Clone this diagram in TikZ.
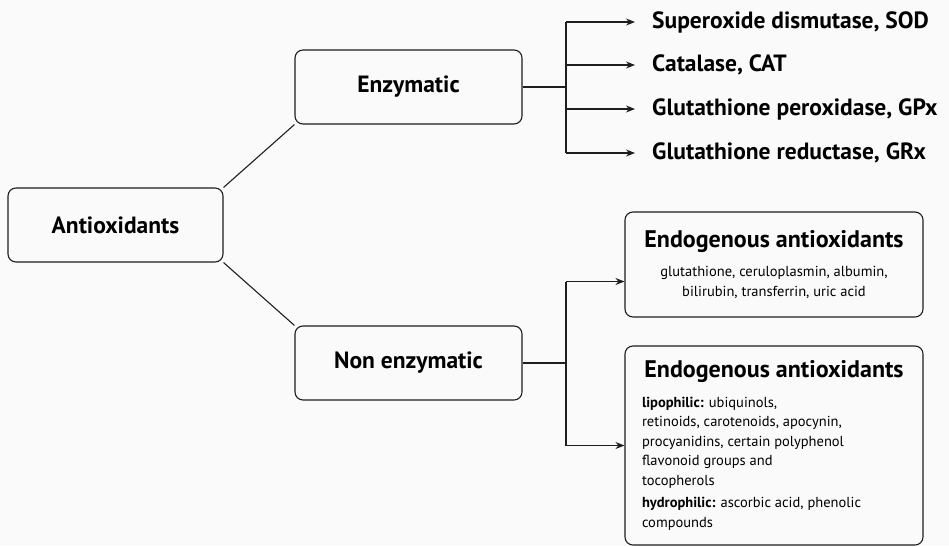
\documentclass[tikz,border=0pt]{standalone}
\usepackage{fontspec}
\setmainfont{PT Sans}
\usetikzlibrary{arrows.meta,positioning,backgrounds}
\definecolor{ink}{HTML}{1E1E1E}
\definecolor{paper}{HTML}{FAFAFA}
\tikzset{box/.style={draw=ink,fill=paper,line width=1.1pt,rounded corners=2.8mm,align=center,font=\fontsize{23.5}{26}\selectfont\bfseries},arr/.style={-{Stealth[length=9pt,width=7pt]},line width=1.1pt,draw=ink},conn/.style={line width=1.1pt,draw=ink},item/.style={anchor=west,inner sep=0pt,font=\fontsize{23.5}{26}\selectfont\bfseries},endo/.style={draw=ink,fill=paper,line width=1.1pt,rounded corners=2.8mm,minimum width=298pt,font=\fontsize{14.5}{19.5}\selectfont}}
\newcommand{\headline}[1]{{\fontsize{24}{26}\selectfont\bfseries #1}}

\begin{document}
\begin{tikzpicture}[x=1pt,y=-1pt]
\fill[paper] (0,0) rectangle (949,546);
\useasboundingbox (0,0) rectangle (949,546);
\node[box,minimum width=215pt,minimum height=74pt] (anti) at (115.5,225) {Antioxidants};
\node[box,minimum width=227pt,minimum height=74pt] (enz) at (408.5,87) {Enzymatic};
\node[box,minimum width=227pt,minimum height=74pt] (nonenz) at (408.5,363) {Non enzymatic};
\draw[conn] (anti.north east) -- (enz.south west);
\draw[conn] (anti.south east) -- (nonenz.north west);
% enzymatic branch
\coordinate (ebus) at (566,87);
\node[item] (sod) at (652,22) {Superoxide dismutase, SOD};
\node[item] (cat) at (652,65) {Catalase, CAT};
\node[item] (gpx) at (652,109) {Glutathione peroxidase, GPx};
\node[item] (grx) at (652,153) {Glutathione reductase, GRx};
\draw[conn] (enz.east) -- (ebus);
\draw[conn] (ebus |- sod.west) -- (ebus |- grx.west);
\foreach \n in {sod,cat,gpx,grx}
  \draw[arr] (ebus |- \n.west) -- ([xshift=-17pt]\n.west);
% non enzymatic branch
\node[endo,minimum height=105pt,align=center] (endoA) at (774,264.5) {\headline{Endogenous antioxidants}\\[10pt]glutathione, ceruloplasmin, albumin,\\bilirubin, transferrin, uric acid};
\node[endo,minimum height=199pt,align=left] (endoB) at (774,445.5) {\makebox[264pt][c]{\headline{Endogenous antioxidants}}\\[10pt]\textbf{lipophilic:} ubiquinols,\\retinoids, carotenoids, apocynin,\\procyanidins, certain polyphenol\\flavonoid groups and\\tocopherols\\[3pt]\textbf{hydrophilic:} ascorbic acid, phenolic\\compounds};
\coordinate (nbus) at (566,363);
\coordinate (inA) at ([yshift=-17pt]endoA.west);
\draw[conn] (nonenz.east) -- (nbus);
\draw[conn] (nbus |- inA) -- (nbus |- endoB.west);
\draw[arr] (nbus |- inA) -- (inA);
\draw[arr] (nbus |- endoB.west) -- (endoB.west);
\end{tikzpicture}
\end{document}
